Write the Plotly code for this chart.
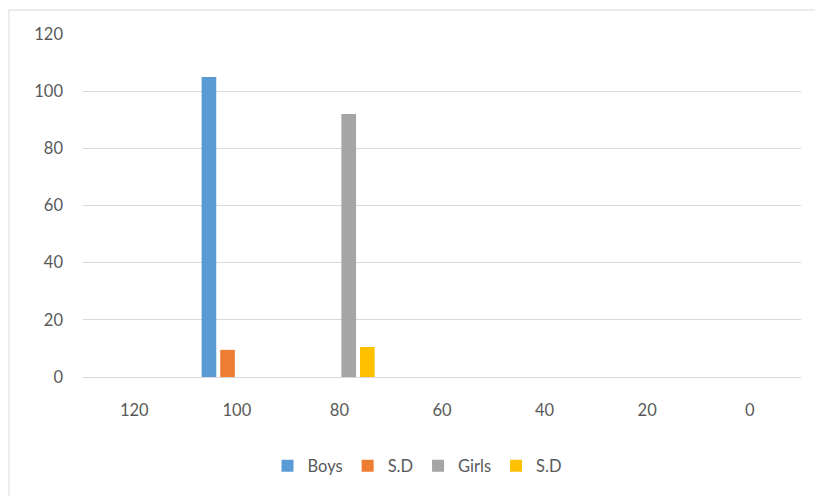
import plotly.graph_objects as go

categories = ["120", "100", "80", "60", "40", "20", "0"]
boys = [None, 105, None, None, None, None, None]
boys_sd = [None, 9.5, None, None, None, None, None]
girls = [None, None, 92, None, None, None, None]
girls_sd = [None, None, 10.5, None, None, None, None]

series = [
    ("Boys", boys, "#5B9BD5"),
    ("S.D", boys_sd, "#ED7D31"),
    ("Girls", girls, "#A5A5A5"),
    ("S.D", girls_sd, "#FFC000"),
]

W, H = 815, 496
L, R, T, B = 83, 14, 34, 119
pw, ph = W - L - R, H - T - B

fig = go.Figure()
for name, vals, col in series:
    fig.add_trace(go.Bar(x=categories, y=vals, name=name, marker=dict(color=col, line=dict(width=0))))

font = dict(family="Lato, 'Open Sans', sans-serif", size=16.5, color="#595959")

fig.update_layout(
    width=W, height=H,
    margin=dict(l=L, r=R, t=T, b=B, pad=0),
    paper_bgcolor="white", plot_bgcolor="white",
    barmode="group", bargap=0.274, bargroupgap=0.213,
    font=font,
    showlegend=True,
    legend=dict(orientation="h", xanchor="center", x=(417 - L) / pw, yanchor="middle",
                y=(H - B - 466) / ph, font=font, itemwidth=30, traceorder="normal",
                bgcolor="rgba(0,0,0,0)"),
    xaxis=dict(type="category", showgrid=False, showline=False, zeroline=False,
               ticks="", ticklabelstandoff=21, tickfont=font, fixedrange=True),
    yaxis=dict(range=[0, 120], tickvals=[0, 20, 40, 60, 80, 100, 120], showgrid=True,
               gridcolor="#D9D9D9", gridwidth=1, zeroline=True, zerolinecolor="#D9D9D9",
               zerolinewidth=1, showline=False, ticks="", ticklabelstandoff=19, tickfont=font),
    shapes=[dict(type="rect", xref="paper", yref="paper",
                 x0=(9 - L) / pw, x1=(830 - L) / pw,
                 y0=(H - B - 520) / ph, y1=(H - B - 10) / ph,
                 line=dict(color="#D9D9D9", width=1), fillcolor="rgba(0,0,0,0)", layer="below")],
)

fig.write_html("out.html")
